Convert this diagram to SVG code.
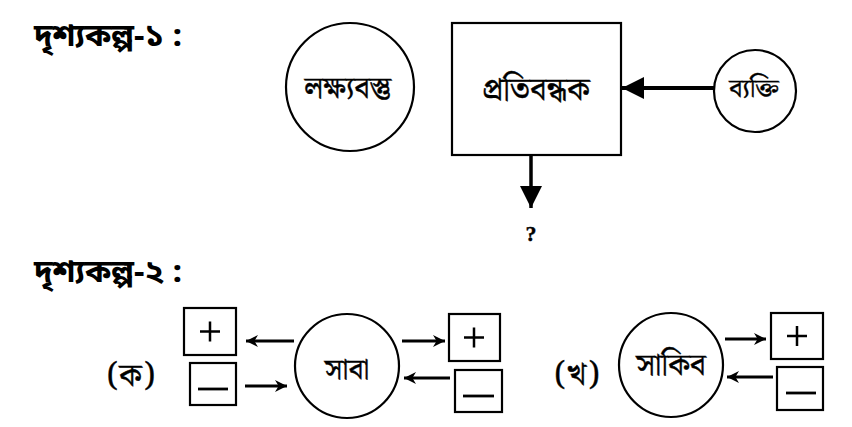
<svg xmlns="http://www.w3.org/2000/svg" width="852" height="427" viewBox="0 0 852 427">
<defs>
<style>
.t{font-family:"Noto Serif Bengali","Noto Sans Bengali","Lohit Bengali","FreeSerif","Liberation Serif",serif;fill:#000;stroke:#000;stroke-width:0.4;text-anchor:middle}
.title{font-family:"Noto Sans Bengali","Noto Serif Bengali","Lohit Bengali","FreeSans","Liberation Sans",sans-serif;font-weight:bold;font-size:31px;fill:#000}
.s{fill:#fff;stroke:#000;stroke-width:2.2}
.c{stroke:#000;fill:none}
</style>
<marker id="big" viewBox="0 0 10 10" refX="10" refY="5" markerUnits="userSpaceOnUse" markerWidth="22" markerHeight="22" orient="auto"><path d="M0,0L10,5L0,10z" fill="#000"/></marker>
<marker id="sm" viewBox="0 0 10 10" refX="10" refY="5" markerUnits="userSpaceOnUse" markerWidth="12" markerHeight="12" orient="auto"><path d="M0,0L10,5L0,10L3,5z" fill="#000"/></marker>
</defs>
<rect width="852" height="427" fill="#fff"/>
<text class="title" x="34" y="46" textLength="148" lengthAdjust="spacingAndGlyphs">দৃশ্যকল্প-১ :</text>
<text class="title" x="34" y="282" textLength="148" lengthAdjust="spacingAndGlyphs">দৃশ্যকল্প-২ :</text>
<g id="connectors">
<line class="c" x1="714" y1="88" x2="622" y2="88" stroke-width="4" marker-end="url(#big)"/>
<line class="c" x1="531" y1="155" x2="531" y2="208" stroke-width="3.5" marker-end="url(#big)"/>
<line class="c" x1="294" y1="341" x2="246" y2="341" stroke-width="3" marker-end="url(#sm)"/>
<line class="c" x1="245" y1="386" x2="287" y2="386" stroke-width="3" marker-end="url(#sm)"/>
<line class="c" x1="402" y1="341" x2="445" y2="341" stroke-width="3" marker-end="url(#sm)"/>
<line class="c" x1="450" y1="378" x2="404" y2="378" stroke-width="3" marker-end="url(#sm)"/>
<line class="c" x1="725" y1="339" x2="766" y2="339" stroke-width="3" marker-end="url(#sm)"/>
<line class="c" x1="773" y1="377" x2="727" y2="377" stroke-width="3" marker-end="url(#sm)"/>
</g>
<g id="target"><circle class="s" cx="350" cy="87" r="64"/><text class="t" x="348" y="98" font-size="30">লক্ষ্যবস্তু</text></g>
<g id="barrier"><rect class="s" x="452" y="23" width="169" height="132"/><text class="t" x="536" y="100" font-size="32">প্রতিবন্ধক</text></g>
<g id="person"><circle class="s" cx="755" cy="91" r="41"/><text class="t" x="754" y="97" font-size="26">ব্যক্তি</text></g>
<g id="q"><text class="t" x="531" y="241" font-size="22" font-weight="bold" style="font-family:'Liberation Serif',serif">?</text></g>
<g id="ka"><text class="t" x="131" y="386" font-size="32">(ক)</text></g>
<g id="saba"><circle class="s" cx="347" cy="366" r="52"/><text class="t" x="347" y="379" font-size="29">সাবা</text></g>
<g id="a-plus-l"><rect class="s" x="184" y="308" width="52" height="47"/><path class="c" d="M200,331.5h20M210,321.5v20" stroke-width="2.5"/></g>
<g id="a-minus-l"><rect class="s" x="190" y="363" width="46" height="42"/><path class="c" d="M198,389h30" stroke-width="2.8"/></g>
<g id="a-plus-r"><rect class="s" x="449" y="314" width="51" height="47"/><path class="c" d="M464,337.5h20M474,327.5v20" stroke-width="2.5"/></g>
<g id="a-minus-r"><rect class="s" x="455" y="370" width="47" height="42"/><path class="c" d="M463,396h31" stroke-width="2.8"/></g>
<g id="kha"><text class="t" x="577" y="385" font-size="32">(খ)</text></g>
<g id="sakib"><circle class="s" cx="671" cy="365" r="52"/><text class="t" x="671" y="375" font-size="31">সাকিব</text></g>
<g id="b-plus"><rect class="s" x="771" y="313" width="52" height="46"/><path class="c" d="M787,336h20M797,326v20" stroke-width="2.5"/></g>
<g id="b-minus"><rect class="s" x="777" y="367" width="46" height="43"/><path class="c" d="M786,393h30" stroke-width="2.8"/></g>
</svg>
